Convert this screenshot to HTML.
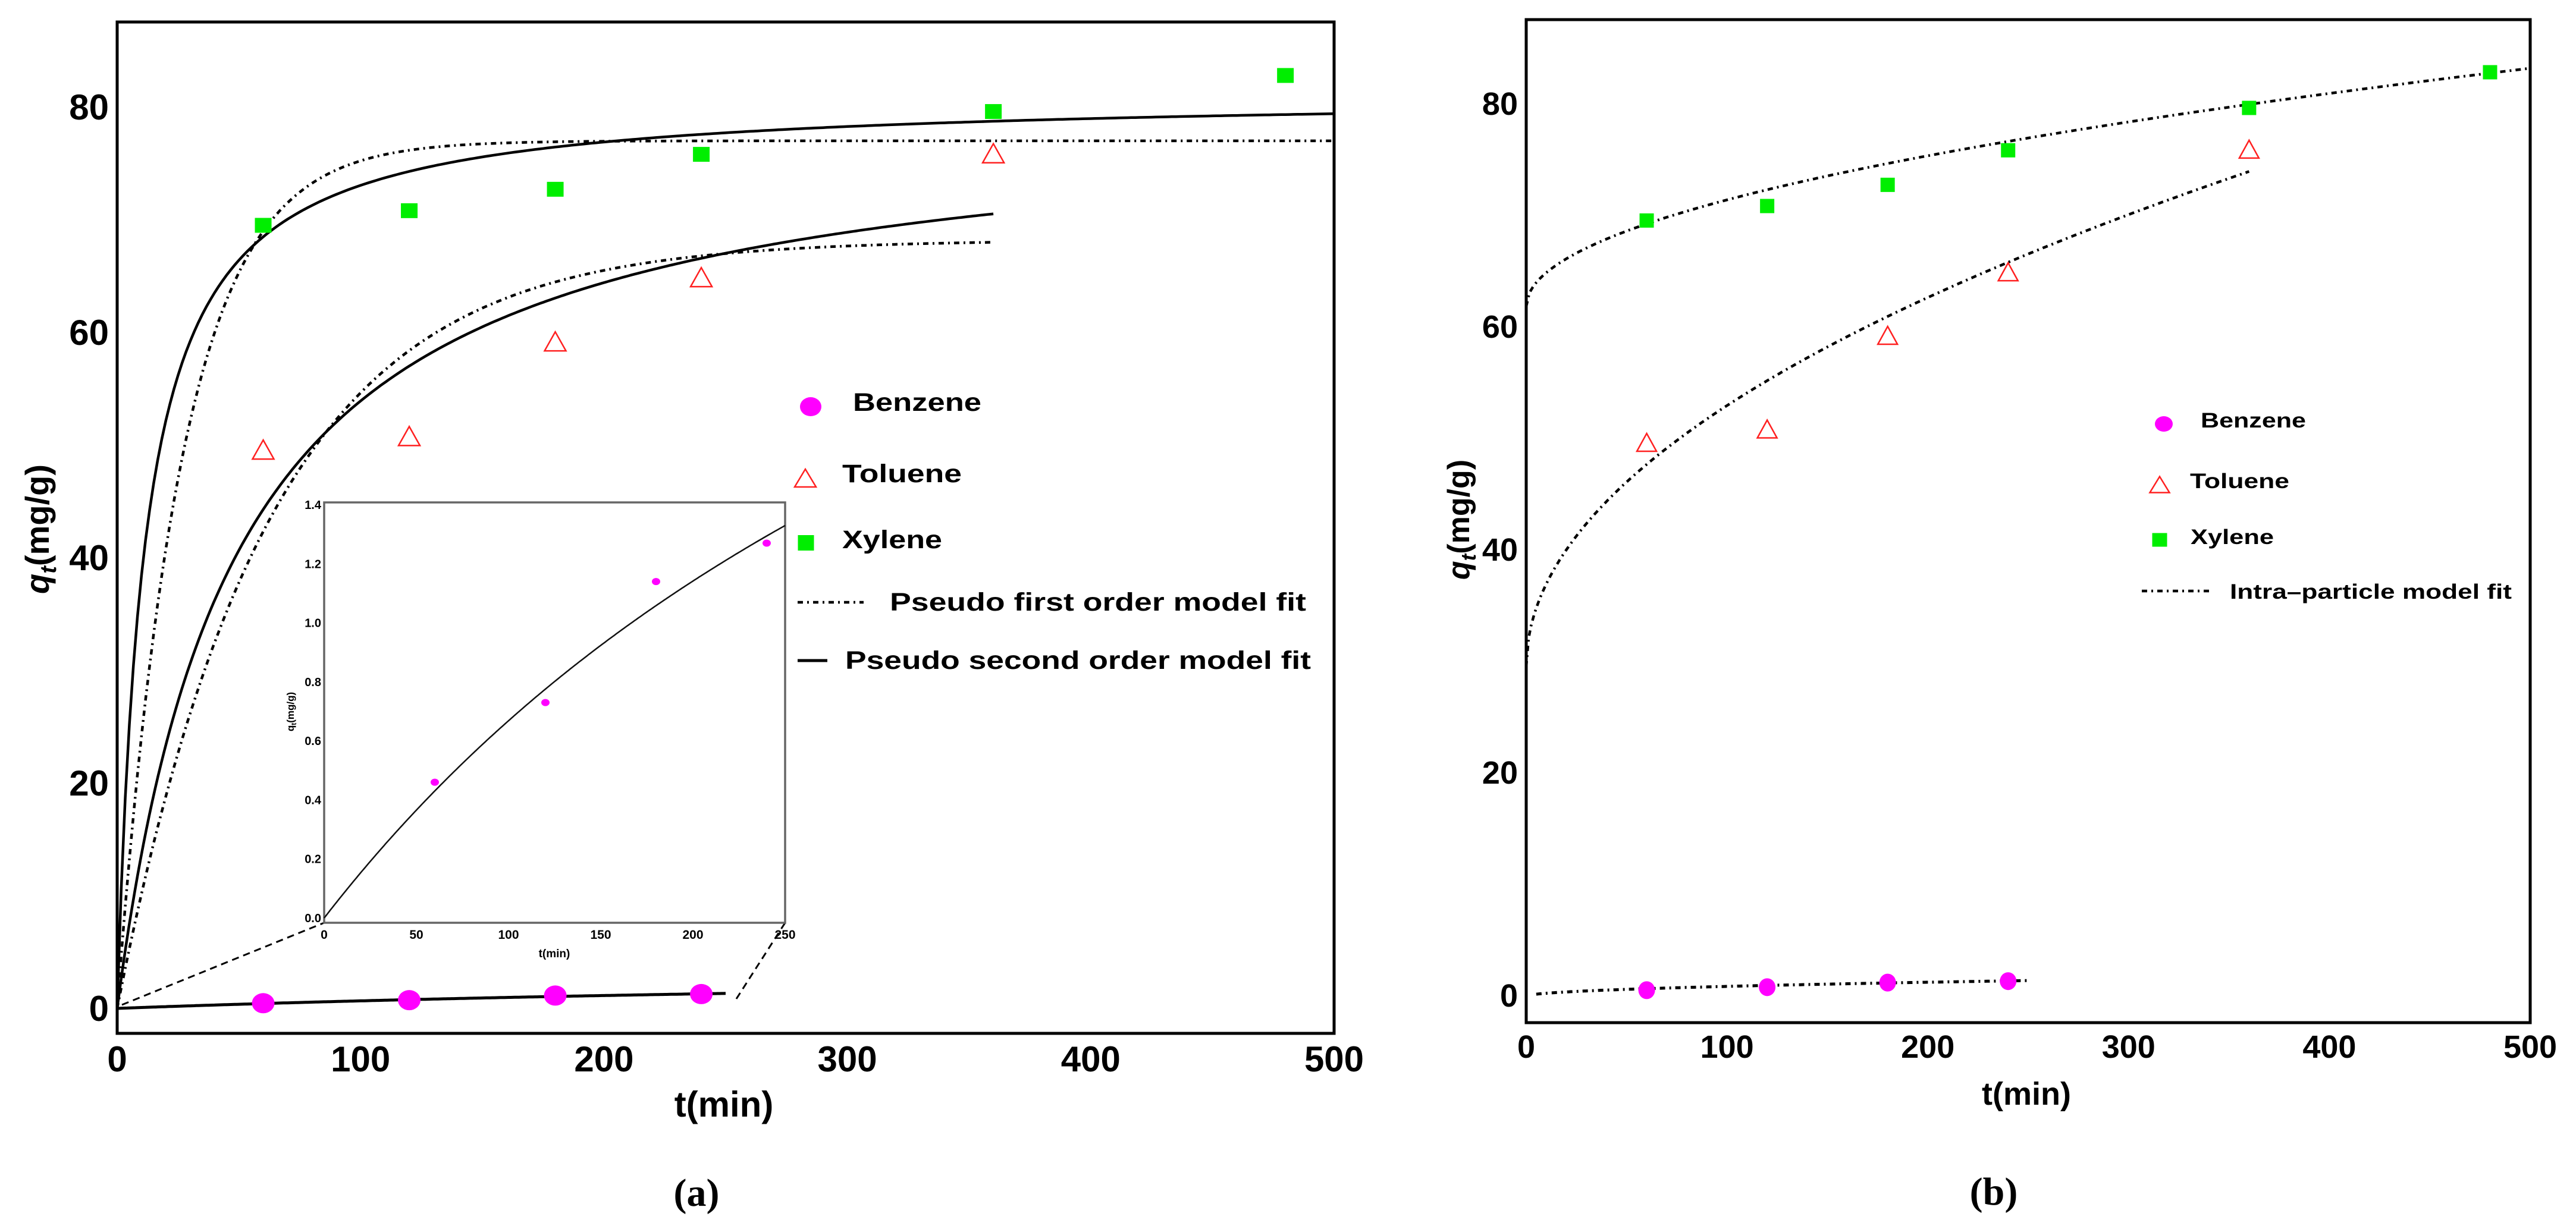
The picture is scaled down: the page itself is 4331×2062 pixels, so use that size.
<!DOCTYPE html>
<html><head><meta charset="utf-8"><style>
html,body{margin:0;padding:0;background:#fff;}
svg{display:block;}
text{font-family:"Liberation Sans",Arial,sans-serif;font-weight:bold;fill:#000;}
</style></head><body>
<svg id="fig" xmlns="http://www.w3.org/2000/svg" width="4331" height="2062" viewBox="0 0 4331 2062"></svg>
<script>
// ---- data ----
const times = [60, 120, 180, 240, 360, 480];
const xyleneQ = [69.5, 70.8, 72.7, 75.8, 79.6, 82.8];
const tolueneQ = [49.6, 50.8, 59.2, 64.9, 75.9];
const benzeneQ = [0.46, 0.73, 1.14, 1.27];
const xTicks = [0, 100, 200, 300, 400, 500];
const yTicks = [0, 20, 40, 60, 80];
const insetXTicks = [0, 50, 100, 150, 200, 250];
const insetYTicks = [0.0, 0.2, 0.4, 0.6, 0.8, 1.0, 1.2, 1.4];
// model parameters (fitted constants)
const pfoXylene = [77.0, 0.0377];     // qe, k1
const pfoToluene = [68.2, 0.01615];
const psoXylene = [0.137, 0.01232];   // a=1/h, b=1/qe  q=t/(a+b t)
const psoToluene = [0.605, 0.0125];
const psoBenzene = [124, 0.256];
const ipXylene = [61.8, 0.955];       // C, kid  q=C+k sqrt(t)
const ipToluene = [29.5, 2.34];
const ipBenzene = [-0.1, 0.09];
const curveEnds = [500, 360, 250];    // xylene, toluene, benzene

const NS = "http://www.w3.org/2000/svg";
const svg = document.getElementById('fig');
function el(tag, attrs, parent) {
  const e = document.createElementNS(NS, tag);
  for (const k in attrs) e.setAttribute(k, attrs[k]);
  (parent || svg).appendChild(e);
  return e;
}
function txt(s, x, y, size, anchor, parent) {
  const t = el('text', {x: x, y: y, 'font-size': size, 'text-anchor': anchor || 'middle'}, parent);
  t.textContent = s;
  return t;
}
const DASHDOT = "9 7 3 7";

// ================= LEFT PANEL (a) =================
const L = {x0: 197, x1: 2243, yTop: 37, yBot: 1738, y0: 1696, pu: 18.95};
const lx = t => L.x0 + (L.x1 - L.x0) * t / 500;
const ly = v => L.y0 - v * L.pu;
const gA = el('g', {});



function curve(fn, t0, t1, sx, sy, attrs, parent, name) {
  let d = '';
  for (let i = 0; i <= 300; i++) {
    const t = t0 + (t1 - t0) * i / 300;
    d += (i ? 'L' : 'M') + sx(t).toFixed(1) + ' ' + sy(fn(t)).toFixed(1);
  }
  const p = el('path', Object.assign({d: d, fill: 'none'}, attrs), parent);
  
  
  return p;
}
const pfo = p => t => p[0] * (1 - Math.exp(-p[1] * t));
const pso = p => t => t / (p[0] + p[1] * t);
const ip = p => t => p[0] + p[1] * Math.sqrt(t);

// curves
curve(pfo(pfoXylene), 0, curveEnds[0], lx, ly, {stroke: '#000', 'stroke-width': 4.5, 'stroke-dasharray': DASHDOT}, gA, 'pfo-xylene-curve');
curve(pso(psoXylene), 0, curveEnds[0], lx, ly, {stroke: '#000', 'stroke-width': 4.5}, gA, 'pso-xylene-curve');
curve(pfo(pfoToluene), 0, curveEnds[1], lx, ly, {stroke: '#000', 'stroke-width': 4.5, 'stroke-dasharray': DASHDOT}, gA, 'pfo-toluene-curve');
curve(pso(psoToluene), 0, curveEnds[1], lx, ly, {stroke: '#000', 'stroke-width': 4.5}, gA, 'pso-toluene-curve');
curve(pso(psoBenzene), 0, curveEnds[2], lx, ly, {stroke: '#000', 'stroke-width': 5}, gA, 'pso-benzene-curve');

// markers
function square(cx, cy, w, h, parent, name) {
  const r = el('rect', {x: cx - w / 2, y: cy - h / 2, width: w, height: h, fill: '#00ee00'}, parent);
  
  
}
function tri(cx, cy, w, h, parent, name) {
  const p = el('polygon', {points: `${cx},${cy - h / 2} ${cx - w / 2},${cy + h / 2} ${cx + w / 2},${cy + h / 2}`, fill: 'none', stroke: '#ff2020', 'stroke-width': 2.5}, parent);
  
  
}
function dot(cx, cy, rx, ry, parent, name) {
  const e = el('ellipse', {cx: cx, cy: cy, rx: rx, ry: ry, fill: '#ff00ff'}, parent);
  
  
}
xyleneQ.forEach((v, i) => square(lx(times[i]), ly(v), 28, 25, gA, 'xylene-point'));
tolueneQ.forEach((v, i) => tri(lx(times[i]), ly(v), 36, 32, gA, 'toluene-point'));
benzeneQ.forEach((v, i) => dot(lx(times[i]), ly(v), 19, 17, gA, 'benzene-point'));

// frame
const frA = el('rect', {x: L.x0, y: L.yTop, width: L.x1 - L.x0, height: L.yBot - L.yTop, fill: 'none', stroke: '#000', 'stroke-width': 5}, gA);



// ticks
xTicks.forEach(t => {
  const e = txt(String(t), lx(t), 1802, 60, 'middle', gA);
  
  
});
yTicks.forEach(v => {
  const e = txt(String(v), 183, ly(v) + 21, 60, 'end', gA);
  
  
});
const xtA = txt('t(min)', 1217, 1878, 60, 'middle', gA);


const ytA = el('text', {x: 0, y: 0, 'font-size': 56, 'text-anchor': 'middle', transform: 'translate(82,890) rotate(-90)'}, gA);
ytA.innerHTML = '<tspan font-style="italic">q</tspan><tspan font-size="38" dy="12" font-style="italic">t</tspan><tspan dy="-12">(mg/g)</tspan>';


const capA = el('text', {x: 1171, y: 2028, 'font-size': 66, 'text-anchor': 'middle', style: 'font-family:"Liberation Serif",serif;font-weight:bold'}, gA);
capA.textContent = '(a)';



// inset
const I = {x0: 545, x1: 1320, yTop: 845, yBot: 1552, y0: 1544, y14: 849};
const ix = t => I.x0 + (I.x1 - I.x0) * t / 250;
const iy = v => I.y0 - (I.y0 - I.y14) * v / 1.4;
const gI = el('g', {});


const c1 = el('line', {x1: 205, y1: 1690, x2: I.x0, y2: I.yBot, stroke: '#000', 'stroke-width': 3, 'stroke-dasharray': '12 8'}, gI);


const c2 = el('line', {x1: 1238, y1: 1680, x2: I.x1, y2: I.yBot, stroke: '#000', 'stroke-width': 3, 'stroke-dasharray': '12 8'}, gI);


const bgI = el('rect', {x: I.x0, y: I.yTop, width: I.x1 - I.x0, height: I.yBot - I.yTop, fill: '#fff', stroke: '#666', 'stroke-width': 3.5}, gI);


curve(pso(psoBenzene), 0, 250, ix, iy, {stroke: '#111', 'stroke-width': 2.5}, gI, 'inset-fit-curve');
benzeneQ.forEach((v, i) => dot(ix(times[i]), iy(v), 7, 6, gI, 'inset-benzene-point'));
insetXTicks.forEach(t => {
  const e = txt(String(t), ix(t), 1579, 21, 'middle', gI);
  
  
});
insetYTicks.forEach(v => {
  const e = txt(v.toFixed(1), 540, iy(v) + 7, 20, 'end', gI);
  
  
});
const ixt = txt('t(min)', 932, 1610, 19, 'middle', gI);


const iyt = el('text', {x: 0, y: 0, 'font-size': 17, 'text-anchor': 'middle', transform: 'translate(494,1197) rotate(-90)'}, gI);
iyt.innerHTML = 'q<tspan font-size="12" dy="4">t</tspan><tspan dy="-4">(mg/g)</tspan>';



// legend a
const gLa = el('g', {});


dot(1363, 684, 18, 16, gLa, 'legend-benzene-marker');
tri(1354, 804, 36, 30, gLa, 'legend-toluene-marker');
square(1355, 913, 27, 26, gLa, 'legend-xylene-marker');
const lpfo = el('line', {x1: 1341, y1: 1013, x2: 1452, y2: 1013, stroke: '#000', 'stroke-width': 4.5, 'stroke-dasharray': DASHDOT}, gLa);


const lpso = el('line', {x1: 1341, y1: 1111, x2: 1391, y2: 1111, stroke: '#000', 'stroke-width': 5}, gLa);


[['Benzene', 1434, 691, 216], ['Toluene', 1416, 811, 201], ['Xylene', 1416, 922, 168],
 ['Pseudo first order model fit', 1496, 1027, 700], ['Pseudo second order model fit', 1421, 1125, 783]].forEach(a => {
  const e = el('text', {x: a[1], y: a[2], 'font-size': 43, textLength: a[3], lengthAdjust: 'spacingAndGlyphs'}, gLa);
  e.textContent = a[0];
  
  
});

// ================= RIGHT PANEL (b) =================
const R = {x0: 2566, x1: 4254, yTop: 33, yBot: 1720, y0: 1674, pu: 18.75};
const rx = t => R.x0 + (R.x1 - R.x0) * t / 500;
const ry = v => R.y0 - v * R.pu;
const gB = el('g', {});


curve(ip(ipXylene), 0, curveEnds[0], rx, ry, {stroke: '#000', 'stroke-width': 4.5, 'stroke-dasharray': DASHDOT}, gB, 'intra-xylene-curve');
curve(ip(ipToluene), 0, curveEnds[1], rx, ry, {stroke: '#000', 'stroke-width': 4.5, 'stroke-dasharray': DASHDOT}, gB, 'intra-toluene-curve');
curve(ip(ipBenzene), 5, curveEnds[2], rx, ry, {stroke: '#000', 'stroke-width': 5, 'stroke-dasharray': DASHDOT}, gB, 'intra-benzene-curve');
xyleneQ.forEach((v, i) => square(rx(times[i]), ry(v), 24, 24, gB, 'xylene-point'));
tolueneQ.forEach((v, i) => tri(rx(times[i]), ry(v), 33, 30, gB, 'toluene-point'));
benzeneQ.forEach((v, i) => dot(rx(times[i]), ry(v), 14, 15, gB, 'benzene-point'));
const frB = el('rect', {x: R.x0, y: R.yTop, width: R.x1 - R.x0, height: R.yBot - R.yTop, fill: 'none', stroke: '#000', 'stroke-width': 5}, gB);


xTicks.forEach(t => {
  const e = txt(String(t), rx(t), 1779, 54, 'middle', gB);
  
  
});
yTicks.forEach(v => {
  const e = txt(String(v), 2552, ry(v) + 19, 54, 'end', gB);
  
  
});
const xtB = txt('t(min)', 3407, 1858, 54, 'middle', gB);


const ytB = el('text', {x: 0, y: 0, 'font-size': 52, 'text-anchor': 'middle', transform: 'translate(2470,874) rotate(-90)'}, gB);
ytB.innerHTML = '<tspan font-style="italic">q</tspan><tspan font-size="35" dy="11" font-style="italic">t</tspan><tspan dy="-11">(mg/g)</tspan>';


const capB = el('text', {x: 3352, y: 2026, 'font-size': 66, 'text-anchor': 'middle', style: 'font-family:"Liberation Serif",serif;font-weight:bold'}, gB);
capB.textContent = '(b)';



const gLb = el('g', {});


dot(3638, 713, 15, 13, gLb, 'legend-benzene-marker');
tri(3631, 815, 33, 27, gLb, 'legend-toluene-marker');
square(3631, 908, 25, 23, gLb, 'legend-xylene-marker');
const lip = el('line', {x1: 3601, y1: 994, x2: 3714, y2: 994, stroke: '#000', 'stroke-width': 4.5, 'stroke-dasharray': DASHDOT}, gLb);


[['Benzene', 3700, 719, 177], ['Toluene', 3682, 821, 167], ['Xylene', 3683, 915, 140],
 ['Intra\u2013particle model fit', 3749, 1007, 474]].forEach(a => {
  const e = el('text', {x: a[1], y: a[2], 'font-size': 35, textLength: a[3], lengthAdjust: 'spacingAndGlyphs'}, gLb);
  e.textContent = a[0];
  
  
});
</script>
</body></html>
